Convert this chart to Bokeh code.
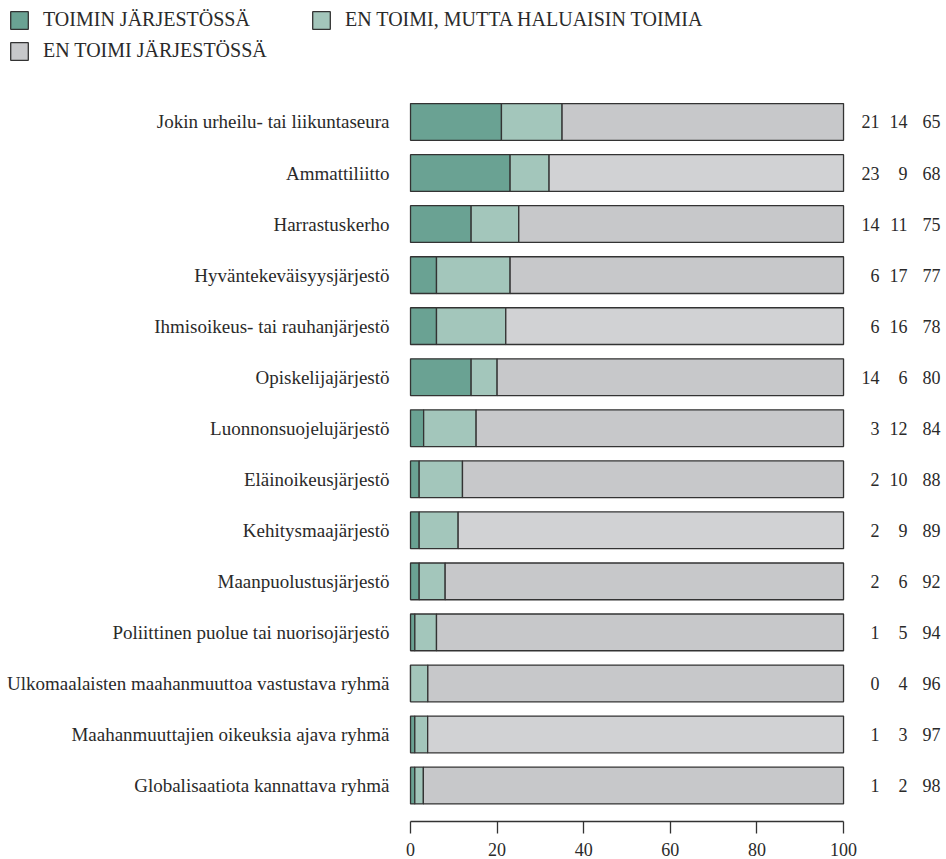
from bokeh.plotting import figure
from bokeh.models import (ColumnDataSource, Range1d, FixedTicker,
                          Legend, LegendItem)
from bokeh.core.properties import value
from bokeh.embed import file_html
from bokeh.resources import INLINE

categories = [
    "Jokin urheilu- tai liikuntaseura",
    "Ammattiliitto",
    "Harrastuskerho",
    "Hyväntekeväisyysjärjestö",
    "Ihmisoikeus- tai rauhanjärjestö",
    "Opiskelijajärjestö",
    "Luonnonsuojelujärjestö",
    "Eläinoikeusjärjestö",
    "Kehitysmaajärjestö",
    "Maanpuolustusjärjestö",
    "Poliittinen puolue tai nuorisojärjestö",
    "Ulkomaalaisten maahanmuuttoa vastustava ryhmä",
    "Maahanmuuttajien oikeuksia ajava ryhmä",
    "Globalisaatiota kannattava ryhmä",
]
toimin = [21, 23, 14, 6, 6, 14, 3, 2, 2, 2, 1, 0, 1, 1]
haluaisin = [14, 9, 11, 17, 16, 6, 12, 10, 9, 6, 5, 4, 3, 2]
en_toimi = [65, 68, 75, 77, 78, 80, 84, 88, 89, 92, 94, 96, 97, 98]
series_labels = ["TOIMIN JÄRJESTÖSSÄ", "EN TOIMI, MUTTA HALUAISIN TOIMIA",
                 "EN TOIMI JÄRJESTÖSSÄ"]
x_ticks = [0, 20, 40, 60, 80, 100]

FONT = "Liberation Serif"
TXT = "#2a2a2a"
EDGE = "#333333"
C1, C2 = "#6aa293", "#a3c6bb"
G_DARK, G_LIGHT = "#c7c8ca", "#d1d2d4"
gray_fill = [G_DARK, G_LIGHT, G_DARK, G_DARK, G_LIGHT, G_DARK, G_DARK,
             G_DARK, G_LIGHT, G_DARK, G_DARK, G_DARK, G_LIGHT, G_DARK]

# shares normalised to 100 % per row (bars all end at 100)
totals = [a + b + c for a, b, c in zip(toimin, haluaisin, en_toimi)]
s1_end = [100.0 * a / t for a, t in zip(toimin, totals)]
s2_end = [100.0 * (a + b) / t for a, b, t in zip(toimin, haluaisin, totals)]
s3_end = [100.0 * t / t for t in totals]
row_pos = list(range(len(categories)))   # row index, top row = 0

src = ColumnDataSource(dict(
    cat=categories, yi=row_pos, zero=[0] * len(categories),
    s1=s1_end, s2=s2_end, s3=s3_end, gfill=gray_fill,
    t1=[str(v) for v in toimin], t2=[str(v) for v in haluaisin],
    t3=[str(v) for v in en_toimi],
))

# frame spans the whole width; x=0 lands at 410 px, x=100 at 843 px
p = figure(width=946, height=859,
           x_range=Range1d(-94.69, 123.78), y_range=Range1d(13.705, -2.38),
           y_axis_location=None,
           output_backend="svg", toolbar_location=None,
           min_border_left=0, min_border_right=0, min_border_top=0,
           min_border_bottom=38)

r1 = p.hbar(y="yi", left="zero", right="s1", height=0.72, source=src,
            fill_color=C1, line_color=EDGE, line_width=1.3)
r2 = p.hbar(y="yi", left="s1", right="s2", height=0.72, source=src,
            fill_color=C2, line_color=EDGE, line_width=1.3)
r3 = p.hbar(y="yi", left="s2", right="s3", height=0.72, source=src,
            fill_color="gfill", line_color=EDGE, line_width=1.3)

# category labels
p.text(x=0, y="yi", text="cat", source=src, x_offset=-21,
       text_align="right", text_baseline="middle",
       text_font=value(FONT), text_font_size="19px", text_color=TXT)

# value columns
for col, off in (("t1", 36), ("t2", 64), ("t3", 97)):
    p.text(x=100, y="yi", text=col, source=src, x_offset=off,
           text_align="right", text_baseline="middle",
           text_font=value(FONT), text_font_size="18px", text_color=TXT)

p.xgrid.visible = False
p.ygrid.visible = False
p.outline_line_color = None

xa = p.xaxis[0]
xa.ticker = FixedTicker(ticks=x_ticks)
xa.bounds = (0, 100)
xa.axis_line_color = EDGE
xa.axis_line_width = 1.3
xa.major_tick_line_color = EDGE
xa.major_tick_line_width = 1.3
xa.major_tick_out = 12
xa.major_tick_in = 0
xa.minor_tick_line_color = None
xa.major_label_standoff = 9
xa.major_label_text_font = FONT
xa.major_label_text_font_size = "18px"
xa.major_label_text_color = TXT

legend = Legend(items=[LegendItem(label=series_labels[0], renderers=[r1]),
                       LegendItem(label=series_labels[1], renderers=[r2]),
                       LegendItem(label=series_labels[2], renderers=[r3])],
                orientation="horizontal", ncols=2, location="top_left",
                glyph_width=22, glyph_height=22, label_standoff=13,
                label_width=259, spacing=8, padding=0, margin=8,
                label_text_font=FONT, label_text_font_size="20px",
                label_text_color=TXT, border_line_color=None,
                background_fill_alpha=0)
p.add_layout(legend, "center")

open("out.html", "w").write(file_html(p, INLINE))
